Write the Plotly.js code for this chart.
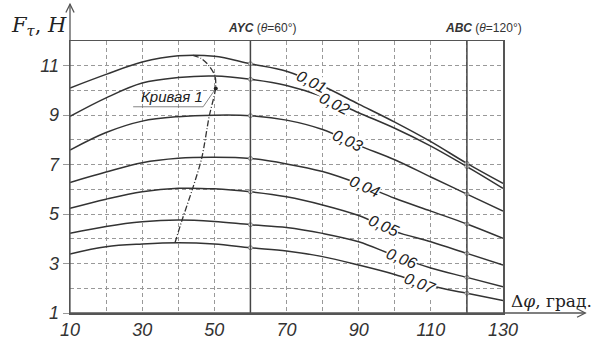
<!DOCTYPE html>
<html><head><meta charset="utf-8">
<script src="https://cdn.plot.ly/plotly-3.0.1.min.js"></script>
<style>html,body{margin:0;padding:0;background:#fff}</style>
</head><body><div id="chart" style="width:603px;height:341px"></div>
<script>
// ---- data ----
const dphi = [10, 20, 30, 40, 50, 60, 70, 80, 90, 100, 110, 120, 130];
const seriesNames = ['0,01', '0,02', '0,03', '0,04', '0,05', '0,06', '0,07'];
const f001 = [10.1, 10.65, 11.15, 11.4, 11.38, 11.08, 10.78, 10.18, 9.45, 8.72, 7.93, 7.05, 6.24];
const f002 = [8.95, 9.7, 10.3, 10.52, 10.58, 10.45, 10.2, 9.75, 9.1, 8.47, 7.75, 6.92, 6.04];
const f003 = [7.59, 8.3, 8.76, 8.94, 9.0, 8.98, 8.8, 8.42, 7.78, 7.2, 6.5, 5.81, 5.12];
const f004 = [6.28, 6.7, 7.08, 7.26, 7.3, 7.25, 7.03, 6.72, 6.23, 5.64, 5.12, 4.6, 4.02];
const f005 = [5.23, 5.6, 5.9, 6.04, 6.02, 5.9, 5.7, 5.37, 4.94, 4.3, 3.88, 3.41, 2.94];
const f006 = [4.22, 4.5, 4.69, 4.76, 4.7, 4.57, 4.46, 4.22, 3.88, 3.32, 2.82, 2.44, 2.06];
const f007 = [3.39, 3.68, 3.79, 3.84, 3.79, 3.64, 3.51, 3.28, 2.94, 2.56, 2.1, 1.8, 1.5];
// "Кривая 1" (locus of maxima)
const curve1X = [39.1, 40.9, 44.0, 46.5, 48.6, 50.3, 50.2, 48.4, 46.3, 43.7];
const curve1Y = [3.84, 4.69, 6.04, 7.26, 8.97, 10.05, 10.58, 11.02, 11.3, 11.43];
// tick labels
const xTickVals = [10, 30, 50, 70, 90, 110, 130];
const yTickVals = [1, 3, 5, 7, 9, 11];
// curve label positions [x, y, angle]
const labelX = [76.8, 83.2, 86.9, 91.7, 96.8, 101.9, 107.1];
const labelY = [10.35, 9.48, 7.97, 6.11, 4.53, 3.21, 2.2];
const labelAngle = [27, 27, 25, 24, 24, 22, 22];
const modes = [60, 120];

const allSeries = [f001, f002, f003, f004, f005, f006, f007];
const lineColor = '#333';
const traces = allSeries.map((ys, i) => ({
  x: dphi, y: ys, type: 'scatter', mode: 'lines', name: seriesNames[i],
  line: {color: lineColor, width: 1.5, shape: 'spline', smoothing: 1}, hoverinfo: 'skip'
}));
traces.push({x: curve1X, y: curve1Y, type: 'scatter', mode: 'lines',
  line: {color: lineColor, width: 1.3, dash: '6px,2px,1px,2px', shape: 'spline', smoothing: 0.8}});
// small circles where curves meet the mode lines
const mx = [], my = [];
allSeries.forEach(ys => modes.forEach(m => { const k = dphi.indexOf(m); mx.push(m); my.push(ys[k]); }));
traces.push({x: mx, y: my, type: 'scatter', mode: 'markers',
  marker: {size: 4, color: '#fff', line: {color: '#888', width: 1}}});

const grid = {griddash: '4px,3px', gridcolor: '#999', gridwidth: 1};
const tickFont = {family: 'Liberation Sans, Arial', size: 18, style: 'italic', color: '#333'};

const annotations = seriesNames.map((t, i) => ({
  x: labelX[i], y: labelY[i], xref: 'x', yref: 'y', text: t, showarrow: false,
  textangle: labelAngle[i], bgcolor: '#fff', borderpad: 0,
  font: {family: 'Liberation Sans, Arial', size: 16, style: 'italic', color: '#222'}
}));
annotations.push(
  {x: 38.3, y: 9.75, xref: 'x', yref: 'y', text: 'Кривая 1', showarrow: false,
   font: {family: 'Liberation Sans, Arial', size: 15, style: 'italic', color: '#222'}},
  {x: -0.14, y: 1.0, xref: 'paper', yref: 'paper', xanchor: 'left', yanchor: 'bottom', showarrow: false,
   text: '<i>F</i><sub><i>τ</i></sub>, <i>H</i>', font: {family: 'DejaVu Serif, Liberation Serif', size: 21, color: '#222'}},
  {x: 1.013, y: 0.045, xref: 'paper', yref: 'paper', xanchor: 'left', yanchor: 'middle', showarrow: false,
   text: 'Δ<i>φ</i>, град.', font: {family: 'DejaVu Serif, Liberation Serif', size: 17, color: '#222'}},
  {x: 0.443, y: 1.048, xref: 'paper', yref: 'paper', xanchor: 'center', yanchor: 'middle', showarrow: false,
   text: '<b><i>AYC</i></b> (<i>θ</i>=60°)', font: {family: 'Liberation Sans, Arial', size: 12, color: '#333'}},
  {x: 0.956, y: 1.048, xref: 'paper', yref: 'paper', xanchor: 'center', yanchor: 'middle', showarrow: false,
   text: '<b><i>ABC</i></b> (<i>θ</i>=120°)', font: {family: 'Liberation Sans, Arial', size: 12, color: '#333'}}
);

const shapes = modes.map(m => ({type: 'line', xref: 'x', yref: 'paper', x0: m, x1: m, y0: 0, y1: 1,
  line: {color: '#444', width: 1.5}}));
shapes.push(
  {type: 'line', xref: 'paper', yref: 'paper', x0: 0, x1: 0, y0: 0, y1: 1.135, line: {color: '#555', width: 1.3}},
  {type: 'line', xref: 'paper', yref: 'paper', x0: 0, x1: 1.19, y0: 0, y1: 0, line: {color: '#555', width: 1.3}},
  // arrow heads
  {type: 'path', xref: 'paper', yref: 'paper', path: 'M-0.0095,1.105 L0,1.135 L0.0095,1.105', line: {color: '#555', width: 1.3}},
  {type: 'path', xref: 'paper', yref: 'paper', path: 'M1.171,0.0155 L1.19,0 L1.171,-0.0155', line: {color: '#555', width: 1.3}},
  // leader for "Кривая 1"
  {type: 'path', xref: 'x', yref: 'y', path: 'M27.5,9.34 L46.9,9.34 L50.4,10.08', line: {color: '#666', width: 0.8}},
  {type: 'circle', xref: 'x', yref: 'y', xsizemode: 'pixel', ysizemode: 'pixel', xanchor: 50.4, yanchor: 10.08,
   x0: -2, x1: 2, y0: -2, y1: 2, fillcolor: '#222', line: {width: 0}}
);

const layout = {
  width: 603, height: 341, showlegend: false,
  margin: {l: 70, r: 100, t: 41, b: 28, pad: 0},
  paper_bgcolor: '#fff', plot_bgcolor: '#fff',
  xaxis: Object.assign({range: [10, 130], tickvals: xTickVals, ticktext: xTickVals.map(String),
    showline: true, mirror: true, linecolor: '#555', linewidth: 1.5, zeroline: false,
    ticks: '', tickfont: tickFont, showgrid: true,
    minor: Object.assign({tick0: 10, dtick: 10, showgrid: true, ticks: ''}, grid)}, grid),
  yaxis: Object.assign({range: [1, 12], tickvals: yTickVals, ticktext: yTickVals.map(String),
    showline: true, mirror: true, linecolor: '#555', linewidth: 1.5, zeroline: false,
    ticks: 'outside', ticklen: 6, tickcolor: '#999', tickfont: tickFont, showgrid: true,
    minor: Object.assign({tick0: 1, dtick: 1, showgrid: true, ticks: ''}, grid)}, grid),
  annotations: annotations, shapes: shapes
};
Plotly.newPlot('chart', traces, layout, {displayModeBar: false, staticPlot: true});
</script></body></html>
